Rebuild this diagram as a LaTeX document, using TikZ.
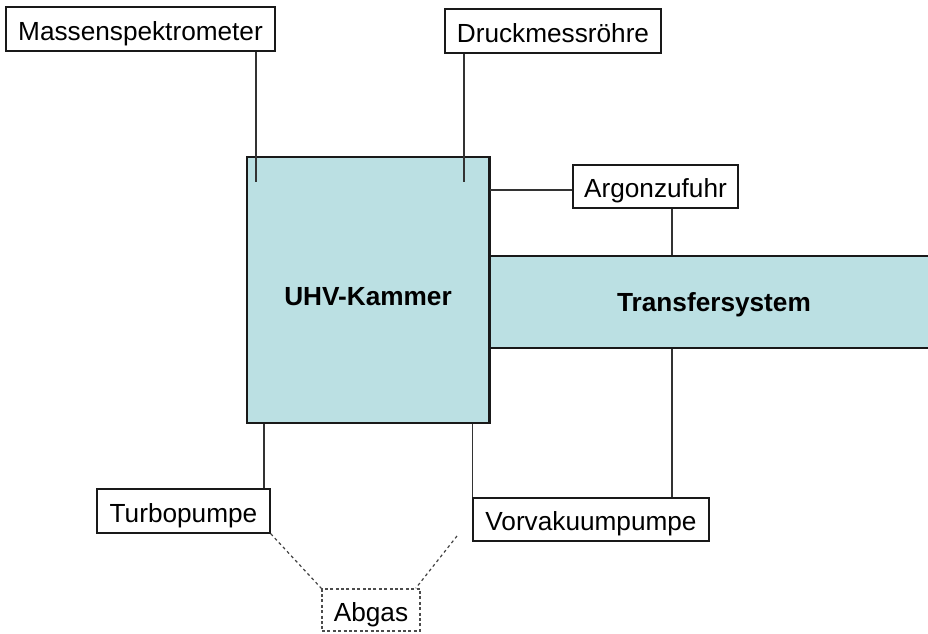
\documentclass[tikz,border=0pt]{standalone}
\usepackage{fontspec}
\setmainfont{Liberation Sans}
\definecolor{kblue}{RGB}{187,224,227}
\begin{document}
\begin{tikzpicture}[x=0.5pt,y=-0.5pt,
  lbl/.style={draw=black!90, line width=0.75pt, fill=white, rectangle, inner sep=0pt,
    text height=11.4pt, text depth=0pt,
    font=\fontsize{13.1}{15}\selectfont},
  part/.style={draw=black!90, line width=0.75pt, fill=kblue, rectangle, inner sep=0pt,
    text depth=0pt, font=\fontsize{13.1}{15}\selectfont\bfseries},
  exhaust/.style={lbl, draw=black!70, dash pattern=on 1.5pt off 1.2pt},
  conn/.style={draw=black!80, line width=0.75pt},
  dconn/.style={draw=black!75, line width=0.6pt, dash pattern=on 1.5pt off 1.5pt}]
\useasboundingbox (0,0) rectangle (928,633);

% main parts
\node[part, text height=15.4pt, minimum width=121pt, minimum height=133pt] (uhv) at (368,290) {UHV-Kammer};
\node[part, text height=9.9pt, minimum width=225pt, minimum height=46pt] (ts) at (714,302) {Transfersystem};
\draw[draw=black!90, line width=0.75pt] (uhv.north east) -- (uhv.south east);

% labels
\node[lbl, minimum width=134.5pt, minimum height=22pt] (ms) at (140.5,29) {Massenspektrometer};
\node[lbl, minimum width=108pt, minimum height=22pt] (dm) at (553,31) {Druckmessröhre};
\node[lbl, minimum width=82.5pt, minimum height=21.5pt] (ar) at (655.5,186.5) {Argonzufuhr};
\node[lbl, minimum width=86.5pt, minimum height=22pt] (tp) at (183.5,511) {Turbopumpe};
\node[lbl, minimum width=118pt, minimum height=21.5pt] (vv) at (591,519.5) {Vorvakuumpumpe};
\node[exhaust, minimum width=49pt, minimum height=21pt] (ab) at (371,610) {Abgas};

% connector helpers
\coordinate (msend) at (256,182);
\coordinate (dmend) at (464,182);
\coordinate (artx) at (672,0);
\coordinate (tpx) at (264,0);
\coordinate (abfree) at (457,536);

% connectors
\draw[conn] (msend |- ms.south) -- (msend);
\draw[conn] (dmend |- dm.south) -- (dmend);
\draw[conn] ([yshift=-1.75pt]ar.west -| uhv.east) -- ([yshift=-1.75pt]ar.west);
\draw[conn] (ar.south -| artx) -- (ts.north -| artx);
\draw[conn] (ts.south -| artx) -- (vv.north -| artx);
\draw[conn] (uhv.south -| tpx) -- (tp.north -| tpx);
\draw[conn] (uhv.south -| vv.west) -- (vv.north west);
\draw[dconn] (tp.south east) -- (ab.north west);
\draw[dconn] (abfree) -- ([xshift=-2.5pt]ab.north east);
\end{tikzpicture}
\end{document}
